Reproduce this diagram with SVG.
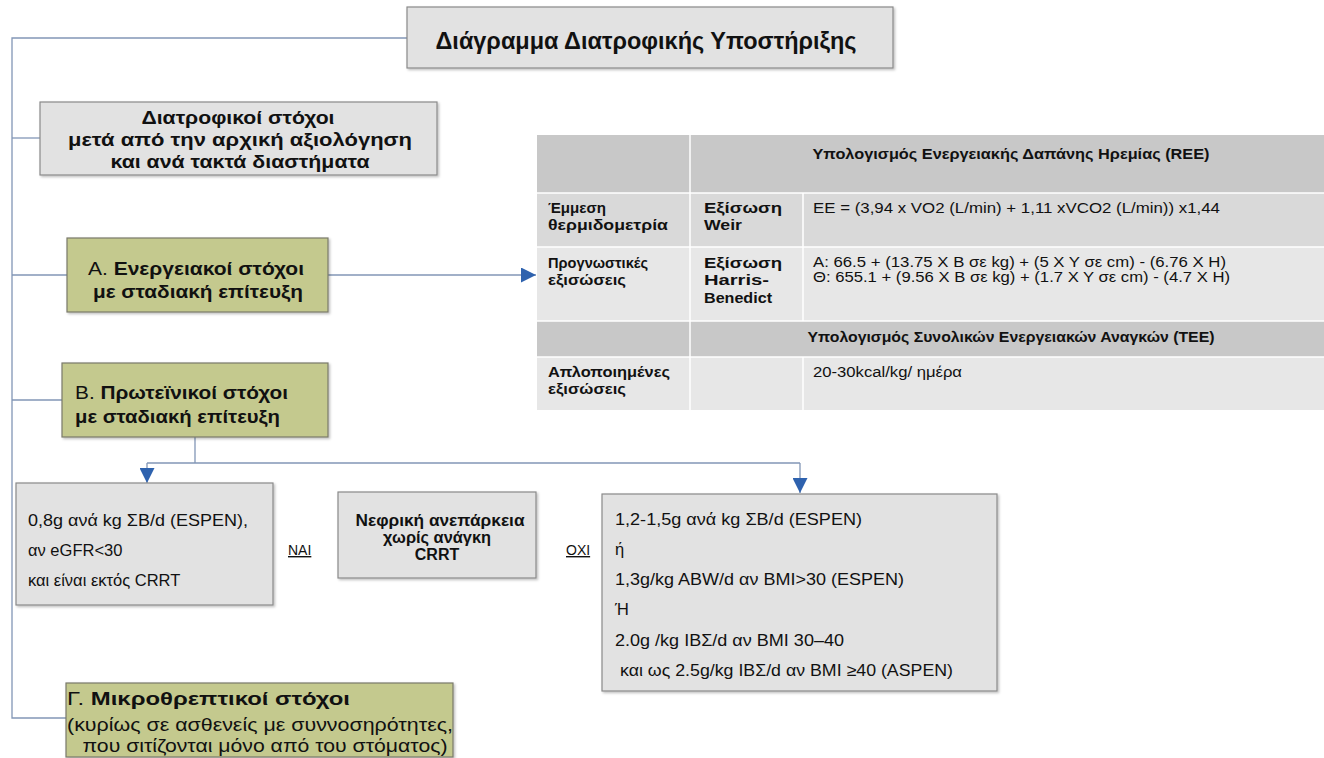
<svg xmlns="http://www.w3.org/2000/svg" width="1324" height="758" viewBox="0 0 1324 758">
<defs>
<marker id="arr" viewBox="0 0 10 10" refX="10" refY="5" markerWidth="15" markerHeight="15" markerUnits="userSpaceOnUse" orient="auto">
<path d="M0,0 L10,5 L0,10 z" fill="#2e62ae"/>
</marker>
<filter id="sh" x="-5%" y="-5%" width="110%" height="120%">
<feDropShadow dx="1.5" dy="1.5" stdDeviation="1" flood-color="#000000" flood-opacity="0.25"/>
</filter>
<style>
.line{stroke:#8296b6;stroke-width:1.3;fill:none}
.grey{fill:#e2e2e2;stroke:#8a8a8a;stroke-width:1.2;filter:url(#sh)}
.green{fill:#c4c98e;stroke:#7a7a6a;stroke-width:1.2;filter:url(#sh)}
.t{font-family:"Liberation Sans",Arial,"DejaVu Sans",sans-serif;fill:#111}
.b{font-weight:bold}
.c{text-anchor:middle}
.th{fill:#c8c8c8}
.td1{fill:#d9d9d9}
.td{fill:#e7e7e7}
.sep{stroke:#ffffff;stroke-width:1.5}
</style>
</defs>
<rect width="1324" height="758" fill="#ffffff"/>

<g id="connectors">
<polyline class="line" points="407,38 12,38 12,718 66,718"/>
<line class="line" x1="12" y1="138" x2="40" y2="138"/>
<line class="line" x1="12" y1="275" x2="67" y2="275"/>
<line class="line" x1="12" y1="400" x2="62" y2="400"/>
<line class="line" x1="328" y1="275" x2="536" y2="275" marker-end="url(#arr)"/>
<line class="line" x1="195" y1="437" x2="195" y2="463"/>
<line class="line" x1="147" y1="463" x2="800" y2="463"/>
<line class="line" x1="147" y1="463" x2="147" y2="483" marker-end="url(#arr)"/>
<line class="line" x1="800" y1="463" x2="800" y2="493" marker-end="url(#arr)"/>
</g>

<g id="title">
<rect class="grey" x="407" y="7" width="486" height="61" fill="#e6e6e6"/>
<text class="t b c" x="646" y="49" font-size="23" textLength="421" lengthAdjust="spacingAndGlyphs">Διάγραμμα Διατροφικής Υποστήριξης</text>
</g>

<g id="goals">
<rect class="grey" x="40" y="102" width="397" height="73"/>
<text class="t b c" x="238" y="124" font-size="18" textLength="193" lengthAdjust="spacingAndGlyphs">Διατροφικοί στόχοι</text>
<text class="t b c" x="240" y="146" font-size="18" textLength="344" lengthAdjust="spacingAndGlyphs">μετά από την αρχική αξιολόγηση</text>
<text class="t b c" x="240" y="168" font-size="18" textLength="259" lengthAdjust="spacingAndGlyphs">και ανά τακτά διαστήματα</text>
</g>

<g id="energy">
<rect class="green" x="67" y="238" width="261" height="74"/>
<text class="t c" x="196" y="275" font-size="19" textLength="216" lengthAdjust="spacingAndGlyphs">Α. <tspan class="b">Ενεργειακοί στόχοι</tspan></text>
<text class="t b c" x="198" y="298" font-size="19" textLength="210" lengthAdjust="spacingAndGlyphs">με σταδιακή επίτευξη</text>
</g>

<g id="protein">
<rect class="green" x="62" y="363" width="266" height="74"/>
<text class="t" x="75" y="399" font-size="19" textLength="213" lengthAdjust="spacingAndGlyphs">Β. <tspan class="b">Πρωτεϊνικοί στόχοι</tspan></text>
<text class="t b" x="75" y="423" font-size="19" textLength="205" lengthAdjust="spacingAndGlyphs">με σταδιακή επίτευξη</text>
</g>

<g id="table">
<rect class="th" x="537" y="135" width="787" height="58"/>
<rect class="td1" x="537" y="193" width="787" height="54"/>
<rect class="td" x="537" y="247" width="787" height="74"/>
<rect class="th" x="537" y="321" width="787" height="36"/>
<rect class="td" x="537" y="357" width="787" height="53"/>
<line class="sep" x1="537" y1="193" x2="1324" y2="193"/>
<line class="sep" x1="537" y1="247" x2="1324" y2="247"/>
<line class="sep" x1="537" y1="321" x2="1324" y2="321"/>
<line class="sep" x1="537" y1="357" x2="1324" y2="357"/>
<line class="sep" x1="690" y1="135" x2="690" y2="410"/>
<line class="sep" x1="803" y1="193" x2="803" y2="321"/>
<line class="sep" x1="803" y1="357" x2="803" y2="410"/>
<text class="t b c" x="1011" y="159" font-size="14" textLength="397" lengthAdjust="spacingAndGlyphs">Υπολογισμός Ενεργειακής Δαπάνης Ηρεμίας (REE)</text>
<text class="t b" x="548" y="213" font-size="14" textLength="58" lengthAdjust="spacingAndGlyphs">Έμμεση</text>
<text class="t b" x="548" y="230" font-size="14" textLength="120" lengthAdjust="spacingAndGlyphs">θερμιδομετρία</text>
<text class="t b" x="704" y="213" font-size="14" textLength="78" lengthAdjust="spacingAndGlyphs">Εξίσωση</text>
<text class="t b" x="704" y="230" font-size="14" textLength="38" lengthAdjust="spacingAndGlyphs">Weir</text>
<text class="t" x="813" y="213" font-size="14" textLength="407" lengthAdjust="spacingAndGlyphs">EE = (3,94 x VO2 (L/min) + 1,11 xVCO2 (L/min)) x1,44</text>
<text class="t b" x="548" y="268" font-size="14" textLength="100" lengthAdjust="spacingAndGlyphs">Προγνωστικές</text>
<text class="t b" x="548" y="285" font-size="14" textLength="78" lengthAdjust="spacingAndGlyphs">εξισώσεις</text>
<text class="t b" x="704" y="268" font-size="14" textLength="78" lengthAdjust="spacingAndGlyphs">Εξίσωση</text>
<text class="t b" x="704" y="285" font-size="14" textLength="65" lengthAdjust="spacingAndGlyphs">Harris-</text>
<text class="t b" x="704" y="303" font-size="14" textLength="68" lengthAdjust="spacingAndGlyphs">Benedict</text>
<text class="t" x="813" y="267" font-size="14" textLength="413" lengthAdjust="spacingAndGlyphs">Α: 66.5 + (13.75 Χ Β σε kg) + (5 Χ Υ σε cm) - (6.76 Χ Η)</text>
<text class="t" x="813" y="282" font-size="14" textLength="417" lengthAdjust="spacingAndGlyphs">Θ: 655.1 + (9.56 Χ Β σε kg) + (1.7 Χ Υ σε cm) - (4.7 Χ Η)</text>
<text class="t b c" x="1011" y="342" font-size="14" textLength="407" lengthAdjust="spacingAndGlyphs">Υπολογισμός Συνολικών Ενεργειακών Αναγκών (TEE)</text>
<text class="t b" x="548" y="377" font-size="14" textLength="122" lengthAdjust="spacingAndGlyphs">Απλοποιημένες</text>
<text class="t b" x="548" y="394" font-size="14" textLength="78" lengthAdjust="spacingAndGlyphs">εξισώσεις</text>
<text class="t" x="813" y="377" font-size="14" textLength="149" lengthAdjust="spacingAndGlyphs">20-30kcal/kg/ ημέρα</text>
</g>

<g id="yes-box">
<rect class="grey" x="16" y="483" width="257" height="122"/>
<text class="t" x="28" y="526" font-size="16.5" textLength="220" lengthAdjust="spacingAndGlyphs">0,8g ανά kg ΣΒ/d (ESPEN),</text>
<text class="t" x="28" y="556" font-size="16.5"> αν eGFR&lt;30</text>
<text class="t" x="28" y="586" font-size="16.5">και είναι εκτός CRRT</text>
</g>

<g id="label-yes">
<text class="t" x="288" y="555" font-size="14" text-decoration="underline">ΝΑΙ</text>
</g>

<g id="renal">
<rect class="grey" x="338" y="492" width="198" height="86"/>
<text class="t b c" x="440" y="526" font-size="16" textLength="169" lengthAdjust="spacingAndGlyphs">Νεφρική ανεπάρκεια</text>
<text class="t b c" x="437" y="543" font-size="16" textLength="108" lengthAdjust="spacingAndGlyphs">χωρίς ανάγκη</text>
<text class="t b c" x="437" y="560" font-size="16">CRRT</text>
</g>

<g id="label-no">
<text class="t" x="566" y="555" font-size="14" text-decoration="underline">ΟΧΙ</text>
</g>

<g id="no-box">
<rect class="grey" x="602" y="494" width="395" height="197"/>
<text class="t" x="615" y="525" font-size="16.5" textLength="247" lengthAdjust="spacingAndGlyphs">1,2-1,5g ανά kg ΣΒ/d (ESPEN)</text>
<text class="t" x="615" y="555" font-size="16.5">ή</text>
<text class="t" x="615" y="585" font-size="16.5" textLength="289" lengthAdjust="spacingAndGlyphs">1,3g/kg ABW/d αν BMI&gt;30 (ESPEN)</text>
<text class="t" x="615" y="615" font-size="16.5">Ή</text>
<text class="t" x="615" y="646" font-size="16.5" textLength="229" lengthAdjust="spacingAndGlyphs">2.0g /kg ΙΒΣ/d αν BMI 30–40</text>
<text class="t" x="620" y="676" font-size="16.5" textLength="333" lengthAdjust="spacingAndGlyphs">και ως 2.5g/kg ΙΒΣ/d αν BMI ≥40 (ASPEN)</text>
</g>

<g id="micro">
<rect class="green" x="66" y="683" width="387" height="74"/>
<text class="t" x="67" y="705" font-size="19" textLength="283" lengthAdjust="spacingAndGlyphs">Γ. <tspan class="b">Μικροθρεπτικοί στόχοι</tspan></text>
<text class="t c" x="260" y="731" font-size="19" textLength="386" lengthAdjust="spacingAndGlyphs">(κυρίως σε ασθενείς με συννοσηρότητες,</text>
<text class="t c" x="265" y="752" font-size="19" textLength="365" lengthAdjust="spacingAndGlyphs">που σιτίζονται μόνο από του στόματος)</text>
</g>
</svg>
